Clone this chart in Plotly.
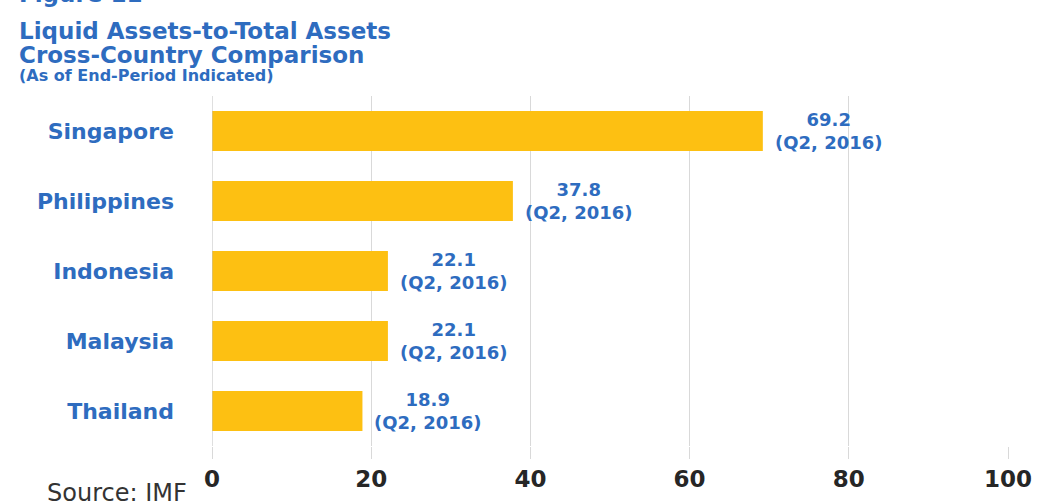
import plotly.graph_objects as go

countries = ["Singapore", "Philippines", "Indonesia", "Malaysia", "Thailand"]
values = [69.2, 37.8, 22.1, 22.1, 18.9]
periods = ["Q2, 2016"] * 5
x_ticks = [0, 20, 40, 60, 80, 100]

BLUE = "#2E6CBF"
FONT = "DejaVu Sans"

fig = go.Figure(go.Bar(
    x=values, y=countries, orientation="h",
    marker=dict(color="#FDC012", line=dict(width=0)),
    width=0.57,
    hoverinfo="x+y",
))

annotations = []
for c, v, p in zip(countries, values, periods):
    annotations.append(dict(
        x=v, y=c, xref="x", yref="y", xanchor="left", yanchor="middle",
        xshift=10, showarrow=False, align="center",
        text=f"<b>{v:.1f}<br>({p})</b>",
        font=dict(family=FONT, size=18, color=BLUE),
    ))

def head(text, yshift, size, bold=True, color=BLUE, y=1):
    return dict(text=f"<b>{text}</b>" if bold else text, x=0, y=y,
                xref="paper", yref="paper", xshift=-195, yshift=yshift,
                xanchor="left", yanchor="middle", showarrow=False,
                font=dict(family=FONT, size=size, color=color))

annotations += [
    head("Figure 11", 102, 23),
    head("Liquid Assets-to-Total Assets", 65, 23),
    head("Cross-Country Comparison", 41, 23),
    head("(As of End-Period Indicated)", 21, 16),
]
annotations.append(dict(text="Source: IMF", x=0, y=0, xref="paper", yref="paper",
                        xshift=-167, yshift=-47, xanchor="left", yanchor="middle",
                        showarrow=False,
                        font=dict(family=FONT, size=24, color="#333333")))

fig.update_layout(
    width=1038, height=502,
    margin=dict(l=212, r=30, t=96, b=56, autoexpand=False),
    paper_bgcolor="white", plot_bgcolor="white",
    showlegend=False,
    font=dict(family=FONT),
    xaxis=dict(range=[0, 100], tickvals=x_ticks, showgrid=True,
               gridcolor="#D9D9D9", gridwidth=1, zeroline=False,
               ticks="outside", ticklen=12, tickcolor="#D9D9D9",
               tickfont=dict(family=FONT, size=23, color="#262626", weight="bold"),
               showline=False, automargin=False),
    yaxis=dict(categoryorder="array", categoryarray=countries[::-1],
               tickfont=dict(family=FONT, size=22, color=BLUE, weight="bold"),
               ticks="", ticklabelstandoff=37, showline=False, automargin=False),
    annotations=annotations,
)

fig.add_vline(x=0, line=dict(color="#BFBFBF", width=1))

fig.write_html("out.html", config={"displayModeBar": False},
               post_script="document.body.style.margin='0';document.body.style.overflow='hidden';")
